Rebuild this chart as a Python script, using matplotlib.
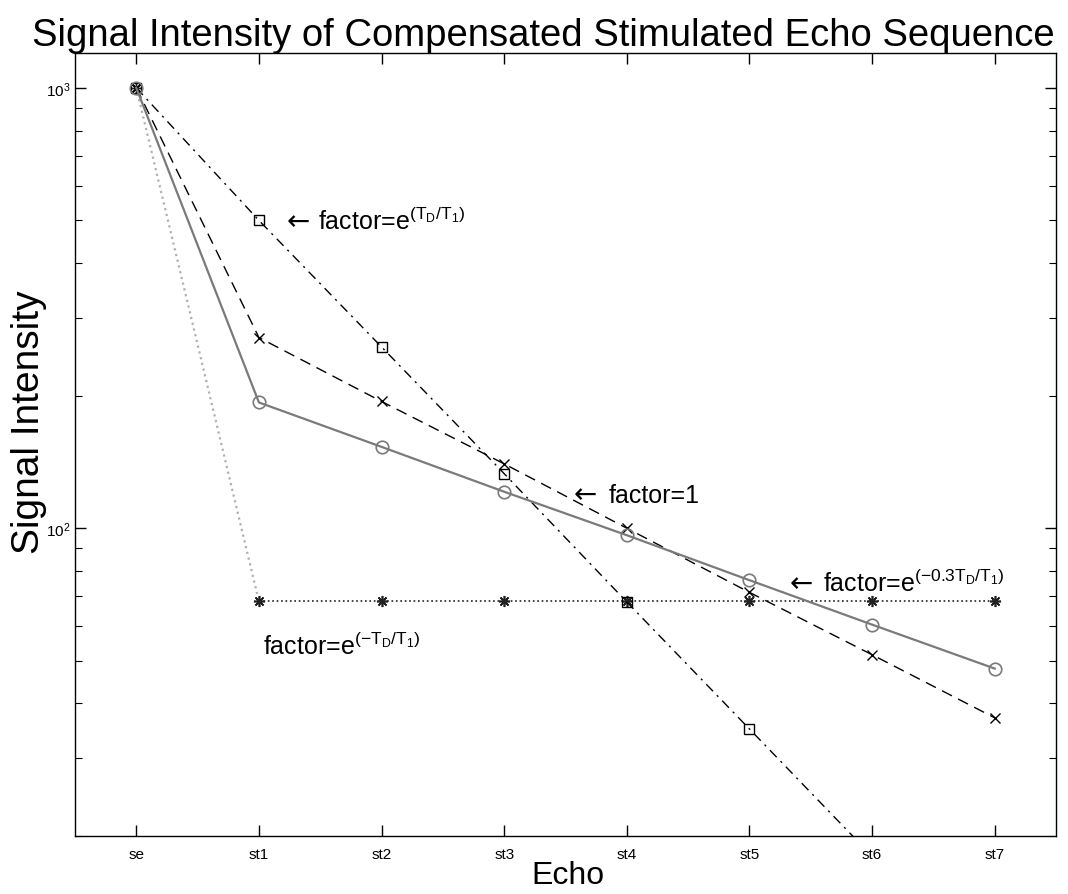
import numpy as np
import matplotlib
matplotlib.use("Agg")
import matplotlib.pyplot as plt
from matplotlib.ticker import LogLocator, NullFormatter

plt.rcParams['font.family'] = ['Liberation Sans', 'DejaVu Sans']
plt.rcParams['mathtext.fontset'] = 'custom'
plt.rcParams['mathtext.rm'] = 'Liberation Sans'
plt.rcParams['mathtext.it'] = 'Liberation Sans'
plt.rcParams['mathtext.bf'] = 'Liberation Sans:bold'

# echo labels and signal values for each compensation factor
echoes = ['se', 'st1', 'st2', 'st3', 'st4', 'st5', 'st6', 'st7']
sig_factor1 = [1000, 193, 153, 121, 96.4, 76.2, 60.4, 48.0]      # factor = 1
sig_03 = [1000, 271, 194, 140, 100, 71.5, 51.6, 37.1]            # factor = e^(-0.3TD/T1)
sig_plus = [1000, 500, 258, 133, 68.0, 35.0, 18.0, 9.3]          # factor = e^(TD/T1)
sig_minus = [1000, 68.2, 68.2, 68.2, 68.2, 68.2, 68.2, 68.2]     # factor = e^(-TD/T1)

x = np.arange(len(echoes))

fig = plt.figure(figsize=(10.68, 8.95), dpi=100)
ax = fig.add_axes([0.0702, 0.0648, 0.9186, 0.8749])

# first drop of the e^(-TD/T1) curve prints lighter
ax.plot(x[:2], sig_minus[:2], color='#b0b0b0', linestyle=':', linewidth=1.6)
ax.plot(x[1:], sig_minus[1:], color='#222222', linestyle=':', linewidth=1.2,
        marker=(8, 2, 0), markersize=8, markeredgewidth=1.2)
ax.plot(x[0], sig_minus[0], color='#222222', marker=(8, 2, 0), markersize=8)
ax.plot(x, sig_plus, color='black', linestyle='-.', linewidth=1.0,
        dashes=(7, 4, 1.5, 4),
        marker='s', markersize=7, markerfacecolor='none', markeredgewidth=1.0)
ax.plot(x, sig_03, color='black', linestyle='--', linewidth=1.0, dashes=(8, 5),
        marker='x', markersize=7, markeredgewidth=1.0)
ax.plot(x, sig_factor1, color='#7a7a7a', linestyle='-', linewidth=1.6,
        marker='o', markersize=9, markerfacecolor='none', markeredgewidth=1.2)

ax.set_yscale('log')
ax.set_xlim(-0.5, 7.5)
ax.set_ylim(20, 1200)
ax.set_xticks(x)
ax.set_xticklabels(echoes, fontsize=11)
ax.set_yticks([100, 1000])
ax.set_yticklabels([r'$10^2$', r'$10^3$'], fontsize=11)
ax.yaxis.set_minor_locator(LogLocator(base=10, subs=np.arange(2, 10)))
ax.yaxis.set_minor_formatter(NullFormatter())
ax.tick_params(which='both', direction='in', top=True, right=True)
ax.tick_params(which='major', length=8, width=1.0)
ax.tick_params(axis='x', which='major', pad=8)
ax.tick_params(axis='y', which='major', pad=3)
ax.tick_params(which='minor', length=5, width=0.8)
for s in ax.spines.values():
    s.set_linewidth(1.0)

# annotations for each curve: arrow then label
fs = 18
arrows = [(1.23, 477), (3.57, 114.6), (5.33, 71.9)]
for ax_x, ax_y in arrows:
    ax.text(ax_x, ax_y, '←', fontsize=fs + 2, family='DejaVu Sans', va='baseline')
ax.text(1.485, 477, 'factor=e$^{(\\mathrm{T_D/T_1})}$', fontsize=fs, va='baseline')
ax.text(3.85, 114.6, 'factor=1', fontsize=fs, va='baseline')
ax.text(5.60, 71.9, 'factor=e$^{(-0.3\\mathrm{T_D/T_1})}$', fontsize=fs, va='baseline')
ax.text(1.03, 51.9, 'factor=e$^{(-\\mathrm{T_D/T_1})}$', fontsize=fs, va='baseline')

fig.text(0.5085, 0.960, 'Signal Intensity of Compensated Stimulated Echo Sequence',
         fontsize=27.5, ha='center', va='center')
fig.text(0.027, 0.528, 'Signal Intensity', fontsize=28, rotation=90,
         ha='center', va='center')
fig.text(0.532, 0.021, 'Echo', fontsize=23, ha='center', va='center')

fig.savefig('out.png', dpi=100)
